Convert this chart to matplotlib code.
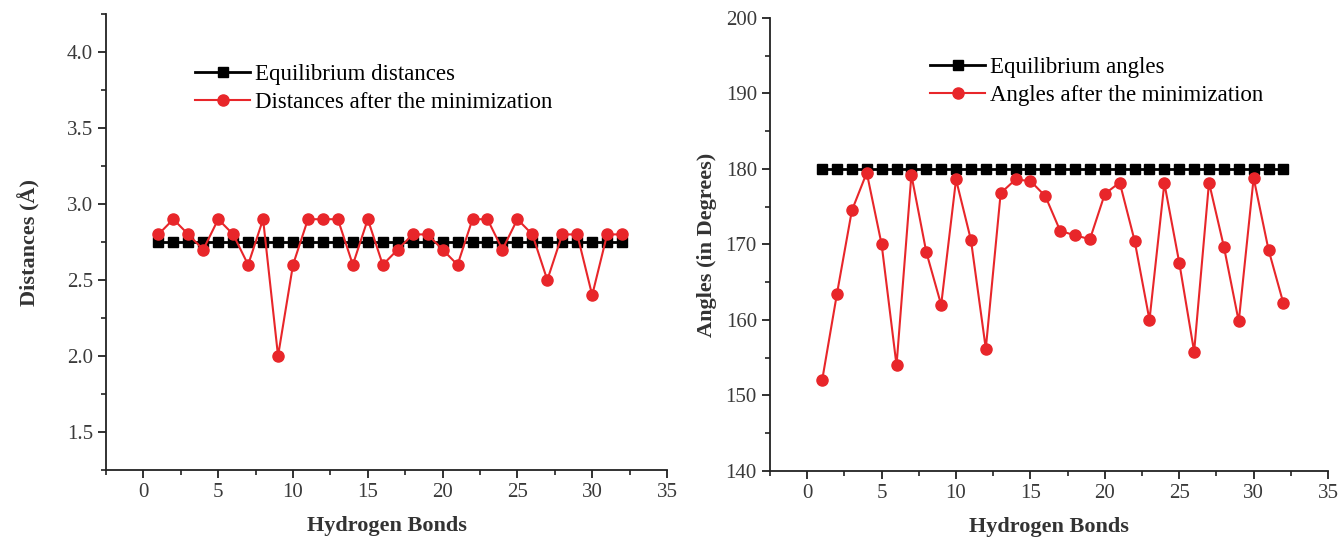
import numpy as np
import matplotlib
matplotlib.use('Agg')
import matplotlib.pyplot as plt
from matplotlib.ticker import MultipleLocator

plt.rcParams['font.family'] = ['Liberation Serif', 'DejaVu Serif']
plt.rcParams['mathtext.fontset'] = 'stix'

# hydrogen bond index
bonds = np.arange(1, 33)

# distances (Angstrom)
dist_eq = [2.75] * 32
dist_min = [2.8, 2.9, 2.8, 2.7, 2.9, 2.8, 2.6, 2.9, 2.0, 2.6, 2.9, 2.9, 2.9, 2.6, 2.9, 2.6,
            2.7, 2.8, 2.8, 2.7, 2.6, 2.9, 2.9, 2.7, 2.9, 2.8, 2.5, 2.8, 2.8, 2.4, 2.8, 2.8]

# angles (degrees)
ang_eq = [180] * 32
ang_min = [152.0, 163.5, 174.5, 179.5, 170.0, 154.0, 179.2, 169.0, 162.0, 178.6, 170.6, 156.2,
           176.8, 178.6, 178.4, 176.4, 171.8, 171.2, 170.7, 176.7, 178.2, 170.5, 160.0, 178.1,
           167.6, 155.8, 178.2, 169.7, 159.8, 178.8, 169.3, 162.2]

RED = '#e8262a'

fig = plt.figure(figsize=(13.42, 5.42), dpi=100)
ax1 = fig.add_axes([0.079, 0.133, 0.418, 0.841])
ax2 = fig.add_axes([0.5738, 0.131, 0.4158, 0.836])


def style(ax):
    for s in ['top', 'right']:
        ax.spines[s].set_visible(False)
    for s in ['left', 'bottom']:
        ax.spines[s].set_linewidth(1.3)
        ax.spines[s].set_color('#222222')
    ax.tick_params(which='major', direction='out', length=6, width=1.3,
                   labelsize=15, colors='#222222', labelcolor='#3a3a3a')
    ax.tick_params(which='minor', direction='out', length=3.5, width=1.2, colors='#222222')
    ax.xaxis.set_major_locator(MultipleLocator(5))
    ax.xaxis.set_minor_locator(MultipleLocator(2.5))
    ax.set_xlabel('Hydrogen Bonds', fontsize=16, fontweight='bold', color='#333333', labelpad=10)


def legend(ax, x, y):
    ax.legend(loc='upper left', bbox_to_anchor=(x, y), frameon=False, fontsize=16.5,
              handlelength=2.4, handletextpad=0.2, labelspacing=0.3, borderpad=0,
              borderaxespad=0)


# left panel: distances
ax1.plot(bonds, dist_eq, color='black', lw=2, marker='s', ms=7, label='Equilibrium distances')
ax1.plot(bonds, dist_min, color=RED, lw=1.5, marker='o', ms=8, label='Distances after the minimization')
ax1.set_xlim(-2.5, 35)
ax1.set_ylim(1.25, 4.25)
ax1.yaxis.set_minor_locator(MultipleLocator(0.25))
ax1.set_yticks([1.5, 2.0, 2.5, 3.0, 3.5, 4.0])
style(ax1)
ax1.set_ylabel('Distances (Å)', fontsize=16, fontweight='bold', color='#333333', labelpad=19)
legend(ax1, 0.159, 0.89)

# right panel: angles
ax2.plot(bonds, ang_eq, color='black', lw=2, marker='s', ms=7, label='Equilibrium angles')
ax2.plot(bonds, ang_min, color=RED, lw=1.5, marker='o', ms=8, label='Angles after the minimization')
ax2.set_xlim(-2.5, 35)
ax2.set_ylim(140, 200)
ax2.yaxis.set_major_locator(MultipleLocator(10))
ax2.yaxis.set_minor_locator(MultipleLocator(5))
style(ax2)
ax2.set_ylabel('Angles (in Degrees)', fontsize=16, fontweight='bold', color='#333333', labelpad=6)
legend(ax2, 0.287, 0.914)

fig.savefig('out.png', dpi=100)
